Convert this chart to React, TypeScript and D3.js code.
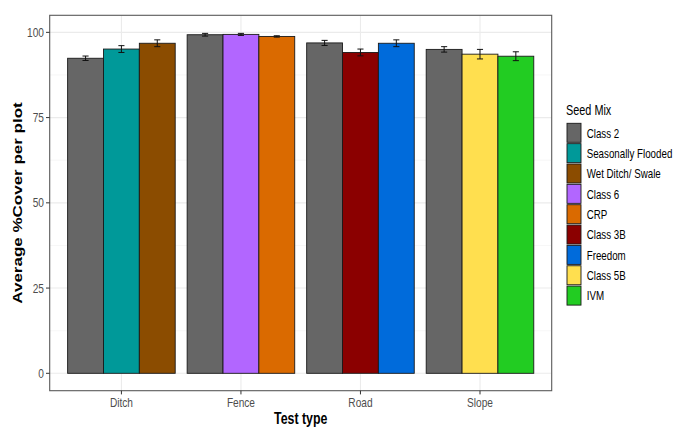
import React from "react";
import * as d3 from "d3";

const testTypes = ["Ditch", "Fence", "Road", "Slope"];
const seedMixes = [
  "Class 2",
  "Seasonally Flooded",
  "Wet Ditch/ Swale",
  "Class 6",
  "CRP",
  "Class 3B",
  "Freedom",
  "Class 5B",
  "IVM",
];
const mixColors = [
  "#666666",
  "#009999",
  "#8b4c00",
  "#b266ff",
  "#da6a00",
  "#8b0000",
  "#006bdb",
  "#ffdf4f",
  "#22cc22",
];

// one entry per bar
const barTest = ["Ditch", "Ditch", "Ditch", "Fence", "Fence", "Fence", "Road", "Road", "Road", "Slope", "Slope", "Slope"];
const barMix = [
  "Class 2", "Seasonally Flooded", "Wet Ditch/ Swale",
  "Class 2", "Class 6", "CRP",
  "Class 2", "Class 3B", "Freedom",
  "Class 2", "Class 5B", "IVM",
];
const barMean = [92.4, 95.1, 96.8, 99.3, 99.4, 98.8, 96.9, 94.1, 96.8, 95.0, 93.6, 93.0];
const barSe = [0.65, 1.0, 1.0, 0.4, 0.3, 0.2, 0.75, 1.0, 1.0, 0.8, 1.4, 1.3];
const yTicks = [0, 25, 50, 75, 100];
const yMinor = [12.5, 37.5, 62.5, 87.5];

const W = 675;
const H = 428;
const panel = { left: 49.7, right: 551.7, top: 15.3, bottom: 390.7 };
const SX = 0.75; // text looks horizontally squeezed
const FONT = "'Liberation Sans', Arial, sans-serif";

const T = ({ x, y, anchor = "start", size, fill = "#4d4d4d", weight = "normal", children }: any) => (
  <text
    transform={`translate(${x},${y}) scale(${SX},1)`}
    textAnchor={anchor}
    fontSize={size}
    fill={fill}
    fontWeight={weight}
    fontFamily={FONT}
  >
    {children}
  </text>
);

export default function App() {
  const x = d3.scalePoint().domain(testTypes).range([panel.left, panel.right]).padding(0.6);
  const step = x.step();
  const y = d3.scaleLinear().domain([-5.1, 105]).range([panel.bottom, panel.top]);
  const color = d3.scaleOrdinal<string, string>().domain(seedMixes).range(mixColors);
  const inner = d3.scaleBand().domain(["0", "1", "2"]).range([-0.45 * step, 0.45 * step]);

  const bars = barMean.map((m, i) => {
    const sameGroup = barTest.slice(0, i).filter((t) => t === barTest[i]).length;
    const bx = (x(barTest[i]) as number) + (inner(String(sameGroup)) as number);
    return { i, bx, m, se: barSe[i], mix: barMix[i] };
  });
  const bw = inner.bandwidth();
  const cap = bw * 0.17;

  const legendX = 567;
  const legendTop = 123.3;
  const legendStep = 20.35;

  return (
    <div style={{ position: "fixed", left: 0, top: 0 }}>
      <svg width={W} height={H} style={{ display: "block", background: "#fff" }}>
        {/* grid */}
        {yMinor.map((v) => (
          <line key={"mi" + v} x1={panel.left} x2={panel.right} y1={y(v)} y2={y(v)} stroke="#f2f2f2" strokeWidth={0.6} />
        ))}
        {yTicks.map((v) => (
          <line key={"ma" + v} x1={panel.left} x2={panel.right} y1={y(v)} y2={y(v)} stroke="#ebebeb" strokeWidth={1.1} />
        ))}
        {testTypes.map((t) => (
          <line key={"vx" + t} x1={x(t)} x2={x(t)} y1={panel.top} y2={panel.bottom} stroke="#ebebeb" strokeWidth={1.1} />
        ))}

        {/* bars */}
        {bars.map((b) => (
          <rect
            key={"b" + b.i}
            x={b.bx}
            y={y(b.m)}
            width={bw}
            height={y(0) - y(b.m)}
            fill={color(b.mix)}
            stroke="#1a1a1a"
            strokeWidth={0.9}
          />
        ))}

        {/* error bars */}
        {bars.map((b) => {
          const cx = b.bx + bw / 2;
          return (
            <g key={"e" + b.i} stroke="#111" strokeWidth={1}>
              <line x1={cx} x2={cx} y1={y(b.m + b.se)} y2={y(b.m - b.se)} />
              <line x1={cx - cap / 2} x2={cx + cap / 2} y1={y(b.m + b.se)} y2={y(b.m + b.se)} />
              <line x1={cx - cap / 2} x2={cx + cap / 2} y1={y(b.m - b.se)} y2={y(b.m - b.se)} />
            </g>
          );
        })}

        {/* panel border */}
        <rect
          x={panel.left}
          y={panel.top}
          width={panel.right - panel.left}
          height={panel.bottom - panel.top}
          fill="none"
          stroke="#5a5a5a"
          strokeWidth={1.1}
        />

        {/* y axis */}
        {yTicks.map((v) => (
          <g key={"yt" + v}>
            <line x1={panel.left - 3.7} x2={panel.left} y1={y(v)} y2={y(v)} stroke="#333" strokeWidth={1} />
            <T x={44} y={y(v) + 4.6} anchor="end" size={13.5}>
              {v}
            </T>
          </g>
        ))}

        {/* x axis */}
        {testTypes.map((t) => (
          <g key={"xt" + t}>
            <line x1={x(t)} x2={x(t)} y1={panel.bottom} y2={panel.bottom + 3.7} stroke="#333" strokeWidth={1} />
            <T x={x(t)} y={406.5} anchor="middle" size={13.5}>
              {t}
            </T>
          </g>
        ))}

        {/* axis titles */}
        <T x={(panel.left + panel.right) / 2} y={423.5} anchor="middle" size={16.5} fill="#000" weight="bold">
          Test type
        </T>
        <text
          transform={`translate(21.5,${(panel.top + panel.bottom) / 2}) rotate(-90) scale(1,${SX})`}
          textAnchor="middle"
          fontSize={17}
          fontWeight="bold"
          fontFamily={FONT}
          fill="#000"
        >
          Average %Cover per plot
        </text>

        {/* legend */}
        <T x={566} y={114.5} size={14.5} fill="#000">
          Seed Mix
        </T>
        {seedMixes.map((s, i) => {
          const top = legendTop + i * legendStep;
          return (
            <g key={"lg" + s}>
              <rect x={legendX} y={top} width={14} height={19} fill={color(s)} stroke="#1a1a1a" strokeWidth={0.9} />
              <T x={586.7} y={top + 14.2} size={13} fill="#000">
                {s}
              </T>
            </g>
          );
        })}
      </svg>
    </div>
  );
}
